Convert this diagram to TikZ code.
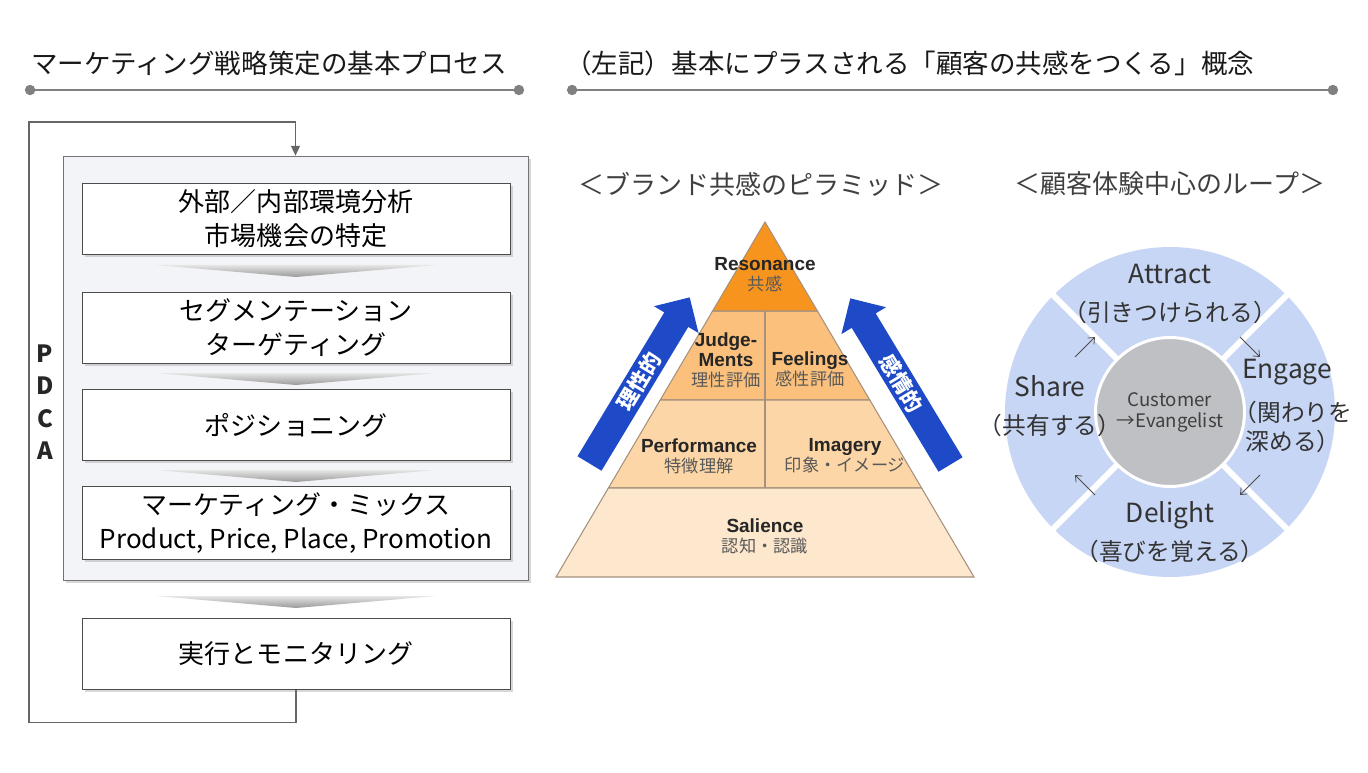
\documentclass[tikz,border=0pt]{standalone}
\usepackage{fontspec}
\setmainfont{Noto Sans CJK JP}
\newfontfamily\pyrfont{Liberation Sans}
\usepackage{tikz}
\usetikzlibrary{shadows, calc, arrows.meta, fit}

\definecolor{ruleGray}{RGB}{128,128,128}
\definecolor{panelGray}{RGB}{243,244,247}
\definecolor{resoOrange}{RGB}{247,148,30}
\definecolor{judgeOrange}{RGB}{250,192,124}
\definecolor{perfOrange}{RGB}{252,214,166}
\definecolor{salPeach}{RGB}{253,232,206}
\definecolor{pyrEdge}{RGB}{165,145,125}
\definecolor{arrowBlue}{RGB}{30,74,200}
\definecolor{loopBlue}{RGB}{200,214,245}
\definecolor{coreGray}{RGB}{191,192,195}

\newcommand{\pyrword}[1]{{\pyrfont\bfseries\fontsize{10.8}{11.3}\selectfont\color{black!85}#1}}
\newcommand{\loopword}[1]{{\fontsize{15}{21.5}\selectfont #1}}

\begin{document}
\begin{tikzpicture}[x=0.02cm, y=-0.02cm,
    headtext/.style={anchor=west, inner sep=0pt, font=\fontsize{15.1}{18}\selectfont, text=black!90},
    headrule/.style={ruleGray, line width=1.7pt, {Circle[length=5.8pt]}-{Circle[length=5.8pt]}},
    stagebox/.style={draw=black!55, fill=panelGray, inner sep=0pt,
        drop shadow={shadow xshift=1.6pt, shadow yshift=-1.6pt, opacity=0.3}},
    procbox/.style={draw=black!70, fill=white, minimum width=8.56cm, minimum height=1.42cm,
        align=center, font=\fontsize{14.8}{19.3}\selectfont,
        drop shadow={shadow xshift=1.6pt, shadow yshift=-1.6pt, opacity=0.3}},
    chev/.style={top color=black!10, bottom color=black!40},
    loopline/.style={draw=black!60, line width=0.7pt},
    pyrlabel/.style={align=center, font=\fontsize{9.8}{11.3}\selectfont, text=black!65},
    arrowtext/.style={text=white, font=\bfseries\fontsize{12}{14}\selectfont},
    subtitle/.style={font=\fontsize{14.8}{18}\selectfont, text=black!75},
    looptext/.style={align=center, font=\fontsize{13.5}{21.5}\selectfont, text=black!80},
    cycarrow/.style={draw=black!70, line width=0.45pt, -{Straight Barb[length=3pt, width=5pt]}}
]
    % canvas
    \fill[white] (0,0) rectangle (1368,773);
    \useasboundingbox (0,0) rectangle (1368,773);

    % Headings
    \node[headtext] (lefthead) at (31,63) {マーケティング戦略策定の基本プロセス};
    \draw[headrule] (25,90) -- (524,90);
    \node[headtext] (righthead) at (565,63) {（左記）基本にプラスされる「顧客の共感をつくる」概念};
    \draw[headrule] (567,90) -- (1338,90);

    % Process
    \node[stagebox, fit={(63,156) (528,580)}] (stages) {};
    \node[procbox] (scan) at (296,218.5) {外部／内部環境分析\\市場機会の特定};
    \node[procbox] (seg) at (296,327.5) {セグメンテーション\\ターゲティング};
    \node[procbox] (pos) at (296,425) {ポジショニング};
    \node[procbox] (mix) at (296,523) {マーケティング・ミックス\\Product, Price, Place, Promotion};
    \node[procbox] (exec) at (296,654) {実行とモニタリング};
    \foreach \y in {265,373,470,596}
        \shade[chev] (156,\y) -- (436,\y) -- (296,\y+12) -- cycle;
    \node[align=center, font=\bfseries\fontsize{13.5}{18.5}\selectfont, text=black!85] (pdca) at (45,402) {P\\D\\C\\A};
    \draw[loopline, -{Triangle[width=5pt, length=5.5pt]}] (exec.south) -- ++(0,33) -| (29,122) -| (stages.north);

    % Pyramid
    \node[subtitle] (pyrtitle) at (761,184) {＜ブランド共感のピラミッド＞};
    \foreach \yt/\yb/\c in {311/400/judgeOrange, 400/488/perfOrange, 488/577/salPeach} {
        \pgfmathsetmacro\wt{(\yt-222)*0.5887}
        \pgfmathsetmacro\wb{(\yb-222)*0.5887}
        \filldraw[fill=\c, draw=pyrEdge, line width=0.6pt] (765-\wt,\yt) -- (765+\wt,\yt) -- (765+\wb,\yb) -- (765-\wb,\yb) -- cycle;
    }
    \filldraw[fill=resoOrange, draw=pyrEdge, line width=0.6pt] (765,222) -- (817.4,311) -- (712.6,311) -- cycle;
    \draw[pyrEdge, line width=0.6pt] (765,311) -- (765,488);
    \node[pyrlabel] (reso) at (765,275) {\pyrword{Resonance}\\共感};
    \node[pyrlabel] (judge) at (726,360) {\pyrword{Judge-}\\\pyrword{Ments}\\理性評価};
    \node[pyrlabel] (feel) at (810,369.5) {\pyrword{Feelings}\\感性評価};
    \node[pyrlabel] (perf) at (699,456) {\pyrword{Performance}\\特徴理解};
    \node[pyrlabel] (imag) at (845,456) {\pyrword{Imagery}\\印象・イメージ};
    \node[pyrlabel] (sal) at (765,536.5) {\pyrword{Salience}\\認知・認識};

    % Side arrows
    \begin{scope}[shift={(589.5,463.5)}, rotate=58.9]
        \fill[arrowBlue] (0,-14) -- (168,-14) -- (168,-26) -- (194,0) -- (168,26) -- (168,14) -- (0,14) -- cycle;
        \node[arrowtext, transform shape] (rational) at (96,0) {理性的};
    \end{scope}
    \begin{scope}[shift={(950.5,464.5)}, rotate=121.1]
        \fill[arrowBlue] (0,-14) -- (168,-14) -- (168,-26) -- (194,0) -- (168,26) -- (168,14) -- (0,14) -- cycle;
        \node[arrowtext, transform shape, rotate=180] (emotional) at (95,0) {感情的};
    \end{scope}

    % Loop
    \node[subtitle] (looptitle) at (1170,184) {＜顧客体験中心のループ＞};
    \coordinate (hub) at (1170,412);
    \fill[loopBlue] (hub) circle[radius=3.3cm];
    \foreach \a in {45,135,225,315}
        \draw[white, line width=3.4pt] ($(hub)+(\a:1.5cm)$) -- ($(hub)+(\a:3.4cm)$);
    \node[circle, fill=coreGray, draw=white, line width=1.7pt, minimum size=2.98cm, inner sep=0pt,
        align=center, font=\fontsize{10.6}{12}\selectfont, text=black!75] (core) at (hub) {Customer\\→Evangelist};
    \node[looptext] (attract) at (1170,294) {\loopword{Attract}\\（引きつけられる）};
    \node[looptext] (delight) at (1170,532) {\loopword{Delight}\\（喜びを覚える）};
    \node[looptext] (share) at (1050,406) {\loopword{Share}\\（共有する）};
    \node[looptext] (engage) at (1287,372) {\loopword{Engage}};
    \node[looptext, font=\fontsize{13.5}{17}\selectfont] (engagejp) at (1293,427) {（関わりを\\深める）};
    \foreach \sx/\sy/\ex/\ey in {1075/357/1095/337, 1240/337/1260/357, 1260/475/1240/495, 1095/495/1075/475}
        \draw[cycarrow] (\sx,\sy) -- (\ex,\ey);
\end{tikzpicture}
\end{document}
